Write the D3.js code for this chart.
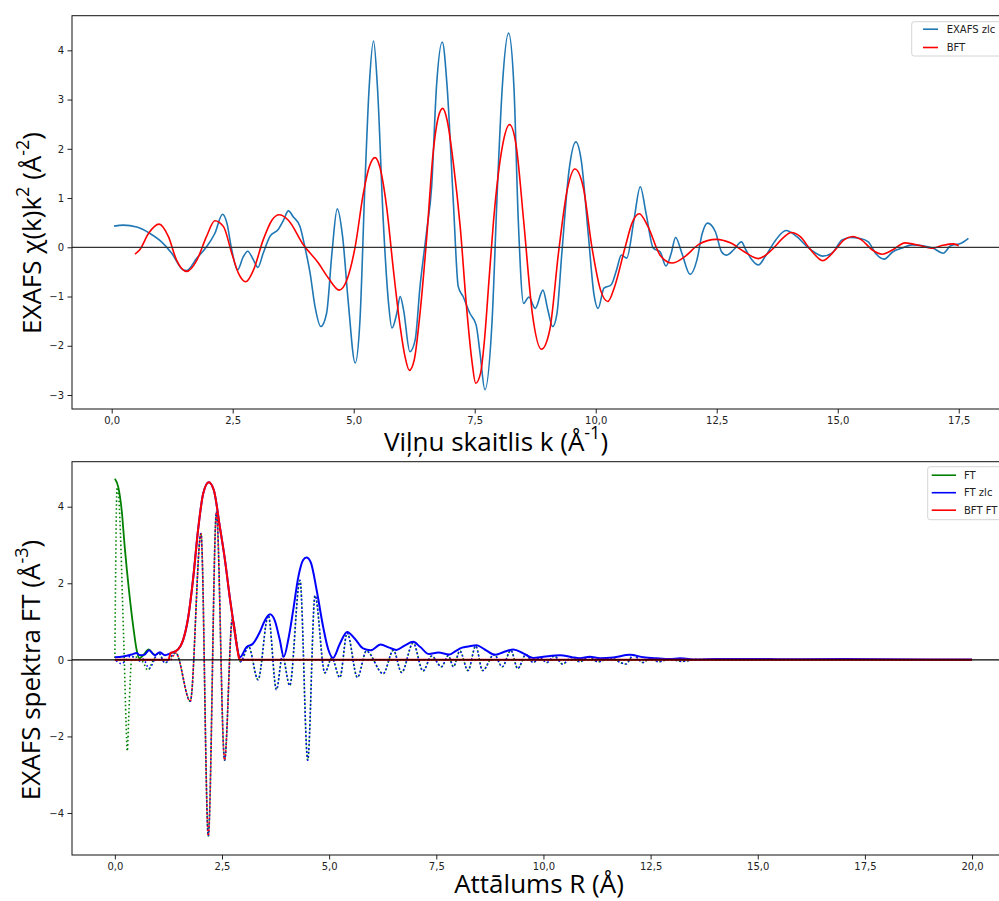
<!DOCTYPE html>
<meta charset="utf-8">
<script src="https://d3js.org/d3.v7.min.js"></script>
<style>
body { margin: 0; background: #fff; }
svg { display: block; }
.tick text { font-family: "DejaVu Sans", sans-serif; font-size: 10px; fill: #222; }
.tick line { stroke: #222; }
.lbl { font-family: "Open Sans", sans-serif; font-size: 26px; fill: #000; }
.leg text { font-family: "DejaVu Sans", sans-serif; font-size: 10px; fill: #222; }
</style>
<body>
<div id="chart"></div>
<script>

// ---- top panel: chi(k)k^2 ----
var kTicks = [0, 2.5, 5, 7.5, 10, 12.5, 15, 17.5];
var chiTicks = [-3, -2, -1, 0, 1, 2, 3, 4];

// EXAFS zlc  [k, chi*k^2]
var exafsZlc = [[0.05,0.43],[0.24,0.45],[0.52,0.41],[0.79,0.28],[1.03,0.11],[1.24,-0.12],[1.48,-0.46],[1.55,-0.47],[1.76,-0.22],[1.96,0.01],[2.13,0.28],[2.29,0.67],[2.38,0.49],[2.48,-0.05],[2.60,-0.46],[2.72,-0.19],[2.81,-0.08],[2.93,-0.26],[3.02,-0.41],[3.13,-0.12],[3.27,0.22],[3.44,0.36],[3.55,0.55],[3.65,0.74],[3.75,0.62],[3.89,0.42],[3.99,0.01],[4.10,-0.53],[4.20,-1.20],[4.32,-1.61],[4.44,-1.34],[4.55,-0.12],[4.66,0.78],[4.77,0.22],[4.89,-1.14],[5.03,-2.35],[5.13,-1.47],[5.23,1.23],[5.32,3.26],[5.41,4.19],[5.49,3.26],[5.61,0.55],[5.72,-1.14],[5.79,-1.64],[5.89,-1.34],[5.96,-1.0],[6.03,-1.27],[6.16,-2.12],[6.27,-1.88],[6.37,-0.80],[6.51,0.35],[6.61,1.23],[6.71,3.26],[6.83,4.17],[6.93,3.26],[7.06,0.89],[7.16,-0.80],[7.26,-1.0],[7.40,-1.34],[7.53,-1.58],[7.61,-2.15],[7.71,-2.89],[7.86,-1.47],[7.97,1.23],[8.07,3.26],[8.20,4.35],[8.31,3.26],[8.40,0.55],[8.51,-1.14],[8.62,-1.01],[8.75,-1.24],[8.91,-0.87],[9.01,-1.27],[9.11,-1.61],[9.20,-1.34],[9.30,-0.12],[9.45,1.57],[9.59,2.14],[9.70,1.77],[9.85,0.22],[9.96,-0.93],[10.05,-1.24],[10.17,-0.83],[10.32,-0.76],[10.43,-0.46],[10.53,-0.16],[10.64,-0.22],[10.79,0.55],[10.92,1.23],[11.04,0.69],[11.19,-0.02],[11.33,-0.09],[11.45,-0.38],[11.56,-0.12],[11.65,0.20],[11.78,-0.12],[11.95,-0.55],[12.09,-0.26],[12.20,0.28],[12.31,0.49],[12.47,0.32],[12.60,-0.09],[12.70,-0.16],[12.85,-0.05],[13.01,0.11],[13.10,-0.05],[13.23,-0.26],[13.36,-0.36],[13.50,-0.19],[13.72,0.15],[13.93,0.34],[14.15,0.22],[14.37,0.01],[14.55,-0.12],[14.69,-0.18],[14.88,-0.12],[15.09,0.15],[15.27,0.20],[15.45,0.18],[15.63,0.11],[15.78,-0.12],[15.96,-0.24],[16.14,-0.09],[16.32,-0.02],[16.54,0.05],[16.76,0.03],[16.97,-0.02],[17.18,-0.12],[17.33,0.03],[17.55,0.08],[17.70,0.18]];

// BFT  [k, chi*k^2]
var bft = [[0.48,-0.14],[0.58,-0.05],[0.76,0.28],[0.98,0.47],[1.17,0.22],[1.34,-0.26],[1.55,-0.49],[1.76,-0.26],[1.96,0.22],[2.13,0.54],[2.31,0.42],[2.48,-0.12],[2.62,-0.53],[2.77,-0.70],[2.93,-0.46],[3.13,0.15],[3.31,0.55],[3.46,0.66],[3.65,0.55],[3.96,0.05],[4.27,-0.32],[4.48,-0.63],[4.70,-0.87],[4.86,-0.66],[5.03,0.01],[5.20,1.10],[5.32,1.63],[5.44,1.82],[5.54,1.63],[5.68,0.82],[5.82,-0.46],[5.96,-1.61],[6.06,-2.22],[6.15,-2.50],[6.25,-2.29],[6.37,-1.34],[6.51,0.22],[6.64,1.91],[6.75,2.65],[6.84,2.82],[6.93,2.58],[7.06,1.70],[7.20,0.42],[7.33,-1.20],[7.44,-2.29],[7.52,-2.76],[7.62,-2.56],[7.70,-1.90],[7.80,-0.60],[7.89,0.55],[8.07,2.04],[8.22,2.49],[8.36,2.04],[8.51,0.55],[8.69,-1.34],[8.88,-2.07],[9.05,-1.68],[9.23,-0.12],[9.41,1.16],[9.57,1.59],[9.74,1.23],[9.92,0.01],[10.10,-0.87],[10.25,-1.10],[10.39,-0.80],[10.61,0.01],[10.75,0.49],[10.90,0.68],[11.08,0.42],[11.33,-0.16],[11.58,-0.32],[11.84,-0.19],[12.13,0.06],[12.49,0.16],[12.78,0.09],[13.07,-0.09],[13.36,-0.23],[13.64,-0.05],[13.86,0.18],[14.04,0.30],[14.22,0.22],[14.44,-0.05],[14.69,-0.27],[14.95,-0.05],[15.13,0.15],[15.31,0.22],[15.49,0.15],[15.71,-0.05],[15.92,-0.14],[16.14,-0.05],[16.39,0.09],[16.68,0.04],[16.94,-0.02],[17.17,0.04],[17.39,0.07],[17.50,0.03]];

// ---- bottom panel: FT in R space ----
var rTicks = [0, 2.5, 5, 7.5, 10, 12.5, 15, 17.5, 20];
var ftTicks = [-4, -2, 0, 2, 4];

// |FT| (only the part not hidden under FT zlc)
var ftMag = [[0.00,4.73],[0.08,4.51],[0.16,3.90],[0.23,2.95],[0.33,1.81],[0.43,0.86],[0.51,0.25],[0.57,0.04],[0.66,0.12],[0.79,0.27],[0.89,0.16],[0.95,0.12]];
// Re FT at low R, before it joins Re FT zlc
var ftReLow = [[0.00,0.05],[0.02,2.5],[0.05,4.50],[0.08,4.40],[0.13,3.30],[0.18,1.50],[0.22,0.0],[0.26,-1.60],[0.29,-2.38],[0.33,-1.30],[0.39,0.0],[0.45,0.10],[0.55,0.03],[0.65,-0.05],[0.77,-0.27],[0.88,-0.05]];

// |FT zlc|
var ftZlcMag = [[0.00,0.07],[0.19,0.09],[0.39,0.14],[0.51,0.18],[0.58,0.12],[0.68,0.13],[0.80,0.25],[0.93,0.12],[1.05,0.20],[1.17,0.12],[1.28,0.16],[1.36,0.20],[1.48,0.28],[1.59,0.51],[1.71,1.10],[1.83,2.16],[1.94,3.38],[2.06,4.34],[2.19,4.64],[2.31,4.43],[2.45,3.47],[2.57,2.60],[2.68,1.64],[2.78,0.86],[2.85,0.33],[2.92,0.07],[3.07,0.33],[3.22,0.42],[3.38,0.72],[3.50,1.03],[3.62,1.19],[3.73,1.03],[3.85,0.51],[3.94,0.08],[4.05,0.55],[4.16,1.29],[4.28,2.16],[4.39,2.60],[4.47,2.67],[4.57,2.55],[4.71,1.81],[4.86,0.86],[4.98,0.27],[5.09,0.05],[5.25,0.42],[5.42,0.73],[5.60,0.55],[5.79,0.30],[5.97,0.25],[6.20,0.40],[6.40,0.32],[6.57,0.26],[6.77,0.38],[6.96,0.47],[7.12,0.34],[7.33,0.15],[7.55,0.19],[7.80,0.14],[7.95,0.23],[8.10,0.32],[8.25,0.35],[8.44,0.38],[8.63,0.27],[8.87,0.13],[9.06,0.20],[9.30,0.27],[9.53,0.17],[9.76,0.05],[10.0,0.08],[10.39,0.12],[10.66,0.07],[10.85,0.04],[11.08,0.08],[11.32,0.04],[11.63,0.06],[12.02,0.13],[12.33,0.07],[12.64,0.04],[12.95,0.02],[13.19,0.04],[13.58,0.01],[14.0,0.02],[15.0,0.02],[16.0,0.015],[17.0,0.02],[18.0,0.015],[19.0,0.01],[20.0,0.01]];

// Re FT zlc (peaks and troughs)
var ftZlcRe = [[0.00,0.02],[0.15,-0.10],[0.38,0.10],[0.55,-0.03],[0.66,0.02],[0.80,-0.22],[1.02,0.18],[1.17,-0.08],[1.42,0.18],[1.76,-1.08],[2.01,3.30],[2.18,-4.60],[2.37,3.86],[2.56,-2.62],[2.74,1.05],[2.93,-0.05],[3.12,0.35],[3.34,-0.52],[3.58,1.16],[3.77,-0.78],[3.91,0.10],[4.08,-0.67],[4.32,2.08],[4.50,-2.62],[4.67,1.68],[4.90,-0.34],[5.06,0.05],[5.25,-0.46],[5.42,0.70],[5.66,-0.46],[5.87,0.23],[6.26,-0.36],[6.50,0.25],[6.69,-0.33],[6.96,0.44],[7.19,-0.29],[7.39,0.10],[7.62,-0.18],[7.78,0.11],[7.90,-0.18],[8.05,0.23],[8.24,-0.28],[8.42,0.36],[8.58,-0.28],[8.85,0.14],[9.04,-0.18],[9.24,0.25],[9.40,-0.23],[9.59,0.14],[9.76,-0.07],[9.92,0.06],[10.08,-0.07],[10.25,0.10],[10.45,-0.11],[10.65,0.06],[10.85,-0.05],[11.05,0.07],[11.28,-0.05],[11.55,0.05],[11.92,-0.11],[12.10,0.12],[12.32,-0.07],[12.50,0.05],[12.68,-0.05],[12.95,0.02],[13.22,-0.04],[13.6,0.01],[14.5,-0.01],[16.0,0.01],[18.0,0.0],[20.0,0.0]];

// |BFT FT| : nonzero only inside the window
var bftMag = [[0.00,0],[1.25,0],[1.30,0.18],[1.36,0.20],[1.48,0.28],[1.59,0.51],[1.71,1.10],[1.83,2.16],[1.94,3.38],[2.06,4.34],[2.19,4.64],[2.31,4.43],[2.45,3.47],[2.57,2.60],[2.68,1.64],[2.78,0.86],[2.85,0.33],[2.90,0.03],[2.93,0],[20.0,0]];

// Re FT = low R part, then same as FT zlc
var ftRe = ftReLow.concat(ftZlcRe.filter(function(d) { return d[0] > 0.95; }));
// Re BFT FT = FT zlc inside the window, zero outside
var bftRe = [[0.00,0],[1.30,0]]
  .concat(ftZlcRe.filter(function(d) { return d[0] > 1.3 && d[0] < 2.9; }))
  .concat([[2.93,0],[20.0,0]]);

var W = 999, H = 901;
var svg = d3.select("#chart").append("svg")
    .attr("width", W)
    .attr("height", H);

var comma = function(d) { return d3.format(".1f")(d).replace(".", ","); };

function panel(box, xDom, yDom, xt, yt) {
  var x = d3.scaleLinear().domain(xDom).range([box.left, box.right]);
  var y = d3.scaleLinear().domain(yDom).range([box.bottom, box.top]);
  var g = svg.append("g");
  g.append("g")
    .attr("transform", "translate(0," + box.bottom + ")")
    .call(d3.axisBottom(x).tickValues(xt).tickFormat(comma).tickSize(4.5).tickPadding(3.5))
    .call(function(a) { a.select(".domain").remove(); });
  g.append("g")
    .attr("transform", "translate(" + box.left + ",0)")
    .call(d3.axisLeft(y).tickValues(yt).tickFormat(d3.format("d")).tickSize(4.5).tickPadding(3.5))
    .call(function(a) { a.select(".domain").remove(); });
  return {x: x, y: y, g: g};
}

function frame(box) {
  svg.append("rect")
    .attr("x", box.left).attr("y", box.top)
    .attr("width", box.right - box.left).attr("height", box.bottom - box.top)
    .attr("fill", "none").attr("stroke", "#111").attr("stroke-width", 1);
}

// top panel
var topBox = {left: 72, right: 1008.6, top: 15.7, bottom: 409};
var p1 = panel(topBox, [-0.82, 18.53], [-3.284, 4.703], kTicks, chiTicks);

var line1 = d3.line()
  .x(function(d) { return p1.x(d[0]); })
  .y(function(d) { return p1.y(d[1]); })
  .curve(d3.curveMonotoneX);

svg.append("path").datum(exafsZlc)
  .attr("d", line1).attr("fill", "none")
  .attr("stroke", "#1f77b4").attr("stroke-width", 1.6);
svg.append("path").datum(bft)
  .attr("d", line1).attr("fill", "none")
  .attr("stroke", "red").attr("stroke-width", 1.6);

svg.append("line")
  .attr("x1", topBox.left).attr("x2", topBox.right)
  .attr("y1", p1.y(0)).attr("y2", p1.y(0))
  .attr("stroke", "#333").attr("stroke-width", 1.2);
frame(topBox);

// bottom panel
var botBox = {left: 72, right: 1014.9, top: 461.7, bottom: 855};
var p2 = panel(botBox, [-1, 21], [-5.097, 5.175], rTicks, ftTicks);

var line2 = d3.line()
  .x(function(d) { return p2.x(d[0]); })
  .y(function(d) { return p2.y(d[1]); })
  .curve(d3.curveMonotoneX);

function curve(data, color, width, dash, offset) {
  var p = svg.append("path").datum(data)
    .attr("d", line2).attr("fill", "none")
    .attr("stroke", color).attr("stroke-width", width);
  if (dash) p.attr("stroke-dasharray", dash).attr("stroke-dashoffset", offset);
}

curve(ftMag, "green", 1.8);
curve(ftRe, "green", 1.6, "1.5,2.5", 0);
curve(ftZlcMag, "blue", 2);
curve(ftZlcRe, "blue", 1.6, "1.5,2.5", 2);
curve(bftMag, "red", 2);
curve(bftRe, "red", 1.6, "1.5,2.5", 0);

svg.append("line")
  .attr("x1", botBox.left).attr("x2", botBox.right)
  .attr("y1", p2.y(0)).attr("y2", p2.y(0))
  .attr("stroke", "#000").attr("stroke-width", 1.2);
frame(botBox);

// axis labels
function label(x, y, rot, parts) {
  var t = svg.append("text").attr("class", "lbl")
    .attr("text-anchor", "middle")
    .attr("transform", "translate(" + x + "," + y + ")" + (rot ? " rotate(-90)" : ""));
  parts.forEach(function(p) {
    var s = t.append("tspan").text(p[0]);
    if (p[1]) s.attr("baseline-shift", "super").attr("font-size", "18px");
  });
}
label(496, 451, false, [["Viļņu skaitlis k (Å"], ["-1", 1], [")"]]);
label(539, 893, false, [["Attālums R (Å)"]]);
label(41, 233, true, [["EXAFS χ(k)k"], ["2", 1], [" (Å"], ["-2", 1], [")"]]);
label(40, 670, true, [["EXAFS spektra FT (Å"], ["-3", 1], [")"]]);

// legends
function legend(x, y, w, rows, x1, x2, tx, dy, step) {
  var g = svg.append("g").attr("class", "leg");
  g.append("rect")
    .attr("x", x).attr("y", y).attr("width", w).attr("height", rows.length * step + 2 * dy - step + 1)
    .attr("rx", 2.5).attr("fill", "#fff").attr("fill-opacity", 0.8)
    .attr("stroke", "#d4d4d4");
  rows.forEach(function(r, i) {
    var yy = y + dy + i * step;
    g.append("line").attr("x1", x1).attr("x2", x2).attr("y1", yy).attr("y2", yy)
      .attr("stroke", r[1]).attr("stroke-width", 1.6);
    g.append("text").attr("x", tx).attr("y", yy + 3.6).text(r[0]);
  });
}
legend(911.7, 21.7, 130, [["EXAFS zlc", "#1f77b4"], ["BFT", "red"]], 923, 938, 946.7, 7.5, 18.3);
legend(927.7, 466.7, 130, [["FT", "green"], ["FT zlc", "blue"], ["BFT FT", "red"]], 931.7, 956, 964, 8.5, 17.5);

</script>
</body>
